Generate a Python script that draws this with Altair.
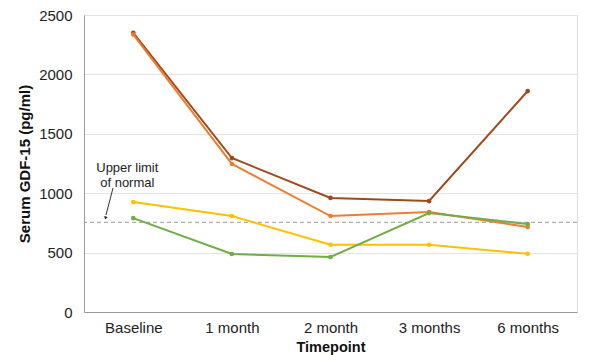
import altair as alt
import pandas as pd

timepoints = ["Baseline", "1 month", "2 month", "3 months", "6 months"]
series_names = ["Patient A", "Patient B", "Patient C", "Patient D"]
patient_a = [2350, 1296, 960, 934, 1860]
patient_b = [2335, 1246, 808, 842, 715]
patient_c = [925, 808, 566, 566, 490]
patient_d = [790, 488, 463, 833, 740]
colors = ["#9E4A1C", "#ED7D31", "#FFC000", "#70AD47"]
upper_limit = 755

rows = []
for name, vals in zip(series_names, [patient_a, patient_b, patient_c, patient_d]):
    for t, v in zip(timepoints, vals):
        rows.append({"Timepoint": t, "value": v, "series": name})
df = pd.DataFrame(rows)

FONT = "Liberation Sans"

x_enc = alt.X("Timepoint:N", sort=timepoints, scale=alt.Scale(type="point", padding=0.5),
              axis=alt.Axis(title="Timepoint", titleFontWeight="bold", titleFontSize=14.5,
                            labelFontSize=15, labelColor="#222", titleColor="#111",
                            labelAngle=0, ticks=False, domainColor="#9a9a9a", labelPadding=8,
                            titlePadding=5, grid=False))
y_enc = alt.Y("value:Q", scale=alt.Scale(domain=[0, 2500], nice=False),
              axis=alt.Axis(title="Serum GDF-15 (pg/ml)", titleFontWeight="bold", titleFontSize=15,
                            labelFontSize=15, labelColor="#222", titleColor="#111", format="d",
                            values=[0, 500, 1000, 1500, 2000, 2500], ticks=False,
                            domainColor="#9a9a9a", gridColor="#e3e3e3", labelPadding=12,
                            titlePadding=6))
color_enc = alt.Color("series:N", scale=alt.Scale(domain=series_names, range=colors), legend=None)

lines = alt.Chart(df).mark_line(strokeWidth=2).encode(
    x=x_enc, y=y_enc, color=color_enc, detail="series:N")
points = alt.Chart(df).mark_point(filled=True, size=22, opacity=1).encode(
    x=alt.X("Timepoint:N", sort=timepoints), y="value:Q", color=color_enc)

ref = alt.Chart(pd.DataFrame({"y": [upper_limit]})).mark_rule(
    color="#9a9a9a", strokeDash=[4, 3], strokeWidth=1).encode(y="y:Q")

label = alt.Chart(pd.DataFrame({"Timepoint": ["Baseline"], "y": [1216],
                                "text": [["Upper limit", "of normal"]]})).mark_text(
    font=FONT, fontSize=13, color="#222", dx=-6, lineHeight=15).encode(
    x=alt.X("Timepoint:N", sort=timepoints), y="y:Q", text="text")

arrow = alt.Chart(pd.DataFrame({"a": [0]})).mark_rule(color="#333", strokeWidth=1).encode(
    x=alt.value(29), x2=alt.value(22), y=alt.value(173), y2=alt.value(200))
head = alt.Chart(pd.DataFrame({"a": [0]})).mark_point(
    shape="triangle-down", filled=True, size=14, color="#222", opacity=1, angle=15).encode(
    x=alt.value(21.5), y=alt.value(203))

chart = alt.layer(ref, lines, points, label, arrow, head).properties(
    width=493, height=297,
    autosize=alt.AutoSizeParams(type="none"),
    padding={"left": 84, "top": 15, "right": 16, "bottom": 43},
).configure_view(stroke=None).configure(font=FONT)

chart.save("out.html", embed_options={"renderer": "svg", "actions": False})
